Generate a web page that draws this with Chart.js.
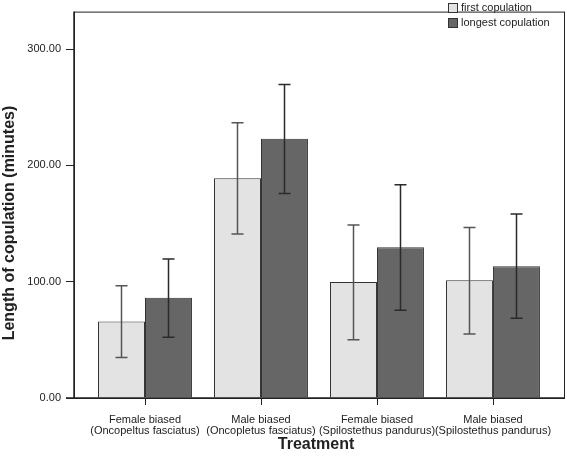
<!DOCTYPE html>
<html>
<head>
<meta charset="utf-8">
<script src="https://cdn.jsdelivr.net/npm/chart.js@4/dist/chart.umd.min.js"></script>
<style>
  html, body { margin: 0; padding: 0; background: #fff; }
  canvas { display: block; }
</style>
</head>
<body>
<canvas id="chart" width="567" height="460"></canvas>
<script>
// --- data ---
const catTop = ['Female biased', 'Male biased', 'Female biased', 'Male biased'];
const catBottom = ['(Oncopeltus fasciatus)', '(Oncopletus fasciatus)', '(Spilostethus pandurus)', '(Spilostethus pandurus)'];
const seriesNames = ['first copulation', 'longest copulation'];

const firstMean = [65.7, 189.0, 99.8, 101.2];
const firstLow = [34.9, 140.9, 50.0, 55.1];
const firstHigh = [96.5, 236.6, 148.7, 146.5];

const longestMean = [86.1, 222.8, 129.7, 113.3];
const longestLow = [52.3, 175.8, 75.5, 68.5];
const longestHigh = [119.6, 269.5, 183.4, 158.2];

const yTicks = [0, 100, 200, 300];

const FONT = 'Arial, "Liberation Sans", sans-serif';
const TEXT = '#222';
const fills = ['#e3e3e3', '#666666'];
const errColors = ['#555555', '#2a2a2a'];
const errData = [[firstLow, firstHigh], [longestLow, longestHigh]];

// error bars, frame, axis titles, legend
const overlay = {
  id: 'overlay',
  afterDatasetsDraw(chart) {
    const ctx = chart.ctx;
    const y = chart.scales.y;
    errData.forEach(([lo, hi], di) => {
      chart.getDatasetMeta(di).data.forEach((bar, i) => {
        const x = Math.round(bar.x) + 0.5;
        const y1 = y.getPixelForValue(lo[i]);
        const y2 = y.getPixelForValue(hi[i]);
        ctx.save();
        ctx.strokeStyle = errColors[di];
        ctx.lineWidth = 1.5;
        ctx.beginPath();
        ctx.moveTo(x, y1); ctx.lineTo(x, y2);
        ctx.moveTo(x - 6, y1); ctx.lineTo(x + 6, y1);
        ctx.moveTo(x - 6, y2); ctx.lineTo(x + 6, y2);
        ctx.stroke();
        ctx.restore();
      });
    });
  },
  afterDraw(chart) {
    const ctx = chart.ctx;
    const a = chart.chartArea;
    const xs = chart.scales.x;
    ctx.save();
    // frame
    ctx.strokeStyle = '#222';
    ctx.lineWidth = 1;
    ctx.strokeRect(a.left + 0.5, a.top + 0.5, a.right - a.left - 1, a.bottom - a.top);
    ctx.lineWidth = 1.5;
    ctx.beginPath();
    ctx.moveTo(a.left - 8, a.bottom);
    ctx.lineTo(a.right, a.bottom);
    ctx.moveTo(a.left, a.top);
    ctx.lineTo(a.left, a.bottom);
    ctx.stroke();
    // category tick marks
    ctx.lineWidth = 1;
    ctx.beginPath();
    catTop.forEach((c, i) => {
      const px = Math.round(xs.getPixelForValue(i)) + 0.5;
      ctx.moveTo(px, a.bottom);
      ctx.lineTo(px, a.bottom + 7);
    });
    ctx.stroke();

    // axis titles
    ctx.fillStyle = TEXT;
    ctx.font = 'bold 16px ' + FONT;
    ctx.textAlign = 'center';
    ctx.textBaseline = 'middle';
    ctx.fillText('Treatment', 316, 445);
    ctx.save();
    ctx.translate(10, 223);
    ctx.rotate(-Math.PI / 2);
    ctx.fillText('Length of copulation (minutes)', 0, 0);
    ctx.restore();

    // legend
    ctx.font = '11px ' + FONT;
    ctx.textAlign = 'left';
    seriesNames.forEach((name, i) => {
      const cy = 8 + i * 15;
      ctx.fillStyle = fills[i];
      ctx.fillRect(448, cy - 5, 10, 10);
      ctx.strokeStyle = '#333';
      ctx.lineWidth = 1;
      ctx.strokeRect(448.5, cy - 4.5, 9, 9);
      ctx.fillStyle = TEXT;
      ctx.fillText(name, 461, cy);
    });
    ctx.restore();
  }
};

const toPoints = arr => arr.map((v, i) => ({ x: i, y: v }));

new Chart(document.getElementById('chart'), {
  type: 'bar',
  data: {
    datasets: [
      { label: seriesNames[0], data: toPoints(firstMean), backgroundColor: fills[0], borderColor: '#333', borderWidth: 1 },
      { label: seriesNames[1], data: toPoints(longestMean), backgroundColor: fills[1], borderColor: '#333', borderWidth: 1 }
    ]
  },
  options: {
    responsive: false,
    animation: false,
    devicePixelRatio: 1,
    categoryPercentage: 0.81,
    barPercentage: 1.0,
    layout: { padding: { top: 2, right: 2, left: 0, bottom: 0 } },
    plugins: { legend: { display: false }, tooltip: { enabled: false } },
    scales: {
      x: {
        type: 'linear',
        offset: false,
        min: -0.612,
        max: 3.621,
        afterFit: s => { s.height = 62; },
        border: { display: false },
        grid: { offset: false, display: false },
        ticks: {
          stepSize: 1,
          includeBounds: false,
          autoSkip: false,
          maxRotation: 0,
          padding: 8,
          color: TEXT,
          font: { family: FONT, size: 11, lineHeight: 1.0 },
          callback: v => (Number.isInteger(v) && v >= 0 && v < catTop.length) ? [catTop[v], catBottom[v]] : ''
        }
      },
      y: {
        min: 0,
        max: 332.2,
        afterFit: s => { s.width = 74; },
        afterBuildTicks: s => { s.ticks = yTicks.map(v => ({ value: v })); },
        border: { display: false },
        grid: { drawOnChartArea: false, drawTicks: true, tickLength: 8, color: '#222', lineWidth: 1 },
        ticks: {
          padding: 5,
          color: TEXT,
          font: { family: FONT, size: 11 },
          callback: v => v.toFixed(2)
        }
      }
    }
  },
  plugins: [overlay]
});
</script>
</body>
</html>
